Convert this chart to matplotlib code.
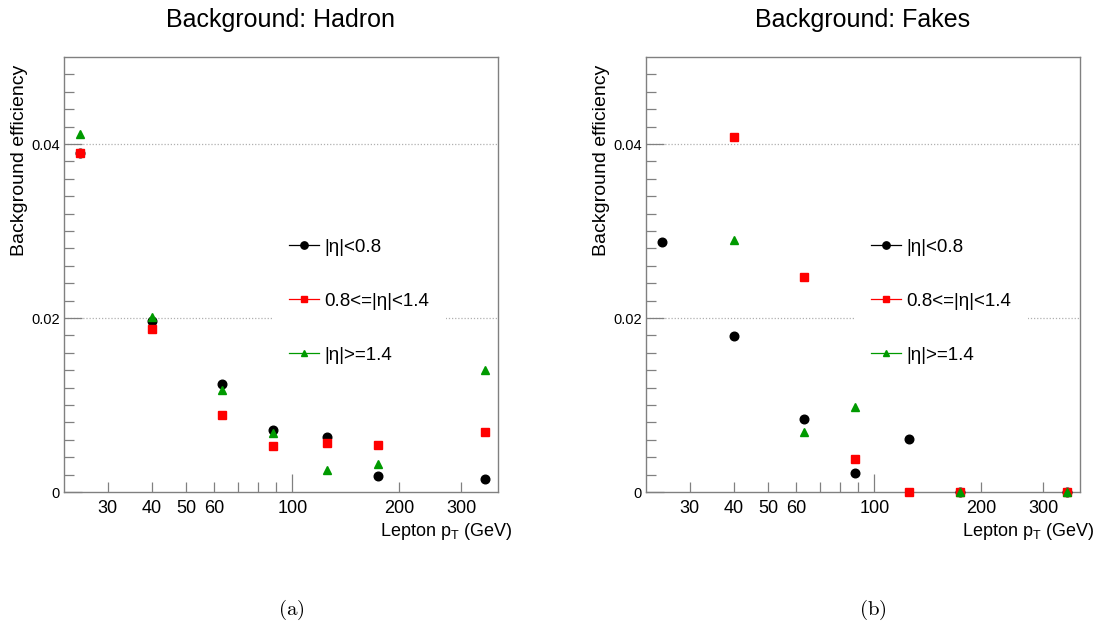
import numpy as np
import matplotlib
matplotlib.use('Agg')
import matplotlib.pyplot as plt
from matplotlib.ticker import FixedLocator, NullFormatter

plt.rcParams['font.family'] = ['Liberation Sans', 'DejaVu Sans']
plt.rcParams['mathtext.fontset'] = 'custom'
plt.rcParams['mathtext.rm'] = 'Liberation Sans'
plt.rcParams['mathtext.it'] = 'Liberation Sans'

# lepton pT bin centres (GeV)
pt = [25, 40, 63, 88, 125, 175, 350]

# background efficiency per eta region
hadron_barrel = [0.0390, 0.0196, 0.01244, 0.00708, 0.00628, 0.00180, 0.00153]
hadron_overlap = [0.0390, 0.01876, 0.00888, 0.00524, 0.00563, 0.00544, 0.00685]
hadron_endcap = [0.0411, 0.0201, 0.01175, 0.00678, 0.00256, 0.00325, 0.01405]

fakes_barrel = [0.02875, 0.01788, 0.00842, 0.00218, 0.00609, 0.0, 0.0]
fakes_overlap = [np.nan, 0.04084, 0.02473, 0.00379, 0.0, 0.0, 0.0]
fakes_endcap = [np.nan, 0.02894, 0.00693, 0.00972, np.nan, 0.0, 0.0]

labels = ['|η|<0.8', '0.8<=|η|<1.4', '|η|>=1.4']
titles = ['Background: Hadron', 'Background: Fakes']
captions = ['(a)', '(b)']
xlabels = [30, 40, 50, 60, 100, 200, 300]

FRAME = '#808080'
GREEN = '#009a00'

W, H = 1101, 633
fig = plt.figure(figsize=(W / 100, H / 100), dpi=100)


def panel(x0, title, caption, series):
    ax = fig.add_axes([x0 / W, 1 - 492 / H, 434 / W, 435 / H])
    ax.set_xscale('log')
    ax.set_xlim(22.6, 381)
    ax.set_ylim(0, 0.05)

    for y in (0.02, 0.04):
        ax.axhline(y, color='#b0b0b0', lw=0.9, ls=(0, (1, 1.5)), zorder=0)

    styles = [('o', 'black', 6.2), ('s', 'red', 5.6), ('^', GREEN, 5.6)]
    handles = []
    for vals, (m, c, ms), lab in zip(series, styles, labels):
        ax.plot(pt, vals, ls='none', marker=m, color=c, ms=ms,
                clip_on=False, zorder=3)
        handles.append(ax.plot([], [], color=c, marker=m, ms=ms * 0.85,
                               lw=0.9, label=lab)[0])

    leg = ax.legend(handles=handles, loc='upper left',
                    bbox_to_anchor=(0.459, 0.643), frameon=True,
                    fancybox=False, edgecolor='none', facecolor='white',
                    framealpha=1, fontsize=13.5, handlelength=1.55,
                    handletextpad=0.3, labelspacing=1.97, borderpad=0.9)
    leg.set_zorder(2)

    for s in ax.spines.values():
        s.set_color(FRAME)
        s.set_linewidth(1.0)

    ax.xaxis.set_major_locator(FixedLocator([100]))
    ax.xaxis.set_minor_locator(FixedLocator([30, 40, 50, 60, 70, 80, 90, 200, 300]))
    ax.xaxis.set_major_formatter(NullFormatter())
    ax.xaxis.set_minor_formatter(NullFormatter())
    ax.tick_params(axis='x', which='major', direction='in', length=13,
                   color=FRAME, width=0.9)
    ax.tick_params(axis='x', which='minor', direction='in', length=7,
                   color=FRAME, width=0.9)
    # ROOT-style log labels on selected ticks only
    xt = ax.get_xaxis_transform()
    for v in xlabels:
        ax.text(v, -0.038, str(v), ha='center', va='center', fontsize=13,
                transform=xt)

    ax.yaxis.set_major_locator(FixedLocator([0, 0.02, 0.04]))
    ax.yaxis.set_minor_locator(FixedLocator(np.arange(0.002, 0.05, 0.002)))
    ax.set_yticklabels(['0', '0.02', '0.04'])
    ax.tick_params(axis='y', which='major', direction='in', length=13,
                   color=FRAME, width=0.9, labelsize=10.5, pad=3)
    ax.tick_params(axis='y', which='minor', direction='in', length=7,
                   color=FRAME, width=0.9)

    ax.text(1.034, -0.09, r'Lepton p$_{\mathrm{T}}$ (GeV)',
            ha='right', va='center', fontsize=13, transform=ax.transAxes)
    ax.text(-0.103, 0.982, 'Background efficiency', rotation=90,
            ha='center', va='top', fontsize=14, transform=ax.transAxes)
    fig.text((x0 + 217) / W, 1 - 20 / H, title, ha='center', va='center',
             fontsize=18)
    fig.text((x0 + 227) / W, 1 - 610 / H, r'$\mathrm{' + caption + '}$',
             ha='center', va='center', fontsize=15, math_fontfamily='cm')
    return ax


panel(64, titles[0], captions[0], [hadron_barrel, hadron_overlap, hadron_endcap])
panel(646, titles[1], captions[1], [fakes_barrel, fakes_overlap, fakes_endcap])

fig.savefig('out.png', dpi=100)
